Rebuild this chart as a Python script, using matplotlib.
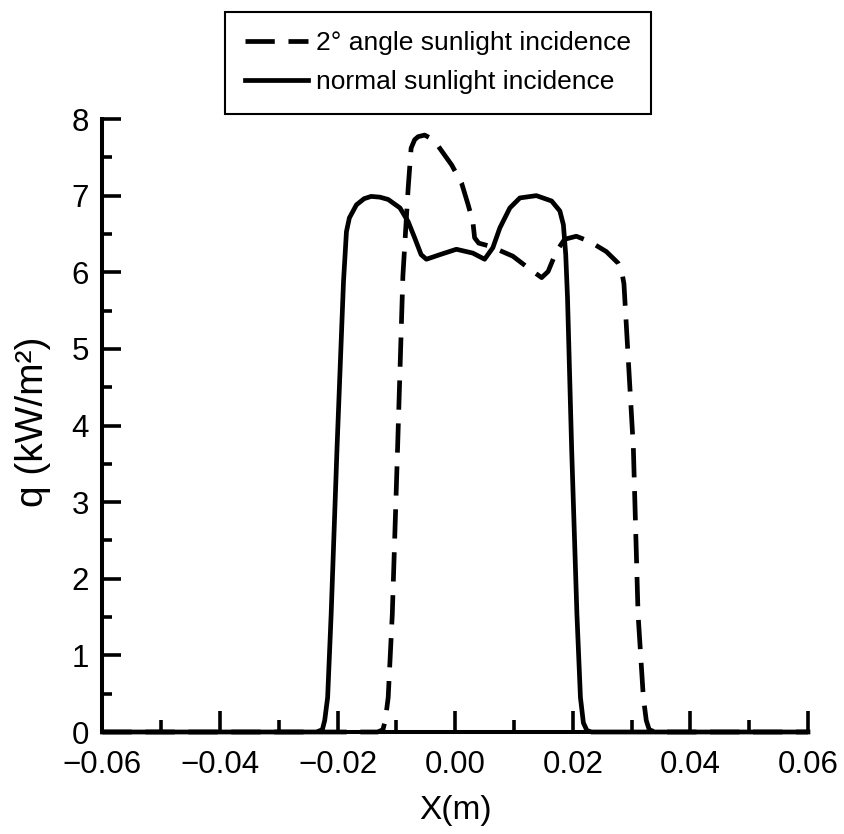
import matplotlib.pyplot as plt
from matplotlib.ticker import MultipleLocator, FuncFormatter

plt.rcParams['font.family'] = ['Liberation Sans', 'DejaVu Sans']

# heat flux q (kW/m2) along X (m)
x_angle = [-0.06, -0.0132, -0.0123, -0.0119, -0.0114, -0.0107, -0.0098, -0.0089,
           -0.0080, -0.0075, -0.0069, -0.0063, -0.0052, -0.0042, -0.0032, -0.0006,
           0.0011, 0.0022, 0.0030, 0.0033, 0.0040, 0.0059, 0.0098, 0.0127,
           0.0147, 0.0158, 0.0172, 0.0186, 0.0206, 0.0229, 0.0257, 0.0277,
           0.0283, 0.0287, 0.0303, 0.0311, 0.0320, 0.0325, 0.0330, 0.0340, 0.06]
q_angle = [0, 0, 0.03, 0.15, 0.45, 1.54, 3.71, 5.95,
           7.10, 7.62, 7.73, 7.77, 7.79, 7.75, 7.68, 7.40,
           7.16, 6.88, 6.66, 6.45, 6.38, 6.34, 6.21, 6.04,
           5.93, 6.01, 6.27, 6.43, 6.47, 6.40, 6.27, 6.12,
           6.02, 5.85, 3.71, 1.54, 0.45, 0.15, 0.03, 0, 0]

x_normal = [-0.06, -0.0236, -0.0226, -0.0222, -0.0217, -0.0211, -0.0201, -0.0190,
            -0.0185, -0.0180, -0.0168, -0.0155, -0.0143, -0.0128, -0.0114, -0.0094,
            -0.0080, -0.0069, -0.0058, -0.0049, -0.0026, 0.0002, 0.0030, 0.0050,
            0.0064, 0.0076, 0.0093, 0.0110, 0.0138, 0.0164, 0.0178, 0.0184,
            0.0188, 0.0191, 0.0198, 0.0207, 0.0213, 0.0218, 0.0224, 0.0232, 0.06]
q_normal = [0, 0, 0.03, 0.15, 0.45, 1.54, 3.71, 5.88,
            6.53, 6.71, 6.88, 6.96, 6.99, 6.98, 6.95, 6.84,
            6.66, 6.45, 6.23, 6.17, 6.23, 6.30, 6.25, 6.17,
            6.32, 6.58, 6.84, 6.97, 7.00, 6.93, 6.80, 6.62,
            6.23, 5.67, 3.71, 1.54, 0.45, 0.12, 0.02, 0, 0]

labels = ['2° angle sunlight incidence', 'normal sunlight incidence']

fig = plt.figure(figsize=(8.44, 8.34), dpi=100)
ax = fig.add_axes([0.1214, 0.1223, 0.8359, 0.735])

ax.plot(x_angle, q_angle, color='black', lw=3.4, linestyle=(0, (6.2, 2.9)),
        dash_capstyle='butt', solid_joinstyle='round', clip_on=False, label=labels[0])
ax.plot(x_normal, q_normal, color='black', lw=3.4, solid_joinstyle='round',
        clip_on=False, label=labels[1])

ax.set_xlim(-0.06, 0.06)
ax.set_ylim(0, 8)
ax.spines['top'].set_visible(False)
ax.spines['right'].set_visible(False)
for s in ['left', 'bottom']:
    ax.spines[s].set_linewidth(2.9)

ax.xaxis.set_major_locator(MultipleLocator(0.02))
ax.xaxis.set_minor_locator(MultipleLocator(0.01))
ax.yaxis.set_major_locator(MultipleLocator(1))
ax.yaxis.set_minor_locator(MultipleLocator(0.5))
ax.xaxis.set_major_formatter(FuncFormatter(lambda v, p: ('%.2f' % v).replace('-', '\u2212')))

ax.tick_params(axis='x', which='major', direction='in', length=15, width=2.6,
               labelsize=22.5, pad=13)
ax.tick_params(axis='x', which='minor', direction='in', length=8.5, width=2.6)
ax.tick_params(axis='y', which='major', direction='in', length=14, width=2.6,
               labelsize=22.5, pad=9.8)
ax.tick_params(axis='y', which='minor', direction='in', length=7.5, width=2.6)

ax.set_xlabel('X(m)', fontsize=24)
ax.set_ylabel('q (kW/m\u00b2)', fontsize=28)
ax.xaxis.set_label_coords(0.5, -0.1028)
ax.yaxis.set_label_coords(-0.073, 0.5065)

leg = fig.legend(loc='upper left', bbox_to_anchor=(0.2666, 0.986), borderaxespad=0,
                 fontsize=19, handlelength=2.4, handletextpad=0.3, borderpad=0.75,
                 labelspacing=0.55, fancybox=False, framealpha=1, edgecolor='black')
leg.get_frame().set_linewidth(1.5)

fig.savefig('out.png', dpi=100)
